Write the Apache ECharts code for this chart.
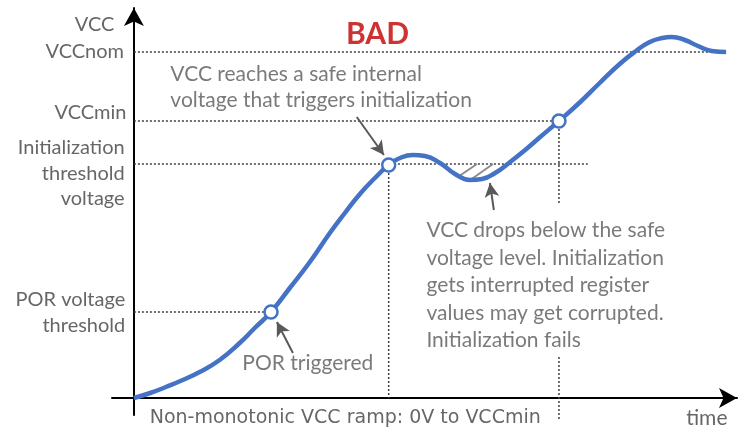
<!DOCTYPE html>
<html>
<head>
<meta charset="utf-8">
<script src="https://cdn.jsdelivr.net/npm/echarts@6/dist/echarts.min.js"></script>
<style>html,body{margin:0;padding:0;background:#fff}#c{width:738px;height:427px}</style>
</head>
<body>
<div id="c"></div>
<script>
// ---- data (time in arbitrary units, voltage in arbitrary units) ----
const curveTime = [0, 2.6, 5.1, 7.8, 10.5, 13.7, 16.9, 19.3, 21.9, 24.9, 28.1, 31.3, 33.7, 36.1, 38.5, 40.7, 42.5, 44.6, 46.5, 48.9, 51.3, 53.7, 55.6, 57.7, 60.1, 62.5, 64.9, 67.9, 71.3, 74.4, 77.6, 80.2, 82.4, 84.4, 85.9, 88.0, 90.1, 92.3, 94.6];
const curveVcc  = [0, 0.05, 0.11, 0.18, 0.26, 0.38, 0.55, 0.70, 0.86, 1.10, 1.36, 1.65, 1.85, 2.04, 2.20, 2.33, 2.40, 2.43, 2.42, 2.35, 2.24, 2.18, 2.19, 2.25, 2.36, 2.48, 2.61, 2.77, 2.96, 3.15, 3.34, 3.47, 3.56, 3.60, 3.61, 3.58, 3.52, 3.47, 3.46];

const levelNames  = ['VCCnom', 'VCCmin', 'Initialization threshold voltage', 'POR voltage threshold'];
const levelValues = [3.46, 2.77, 2.34, 0.86];
const levelEnds   = [92.0, 67.9, 72.5, 21.9];   // time where each dotted guide ends

const markTimes   = [21.9, 40.7, 67.9];          // POR trigger, init trigger, VCCmin reached
const markVcc     = [0.86, 2.33, 2.77];

const axisNames   = ['VCC', 'time'];
const titleText   = 'BAD';
const noteInit    = ['VCC reaches a safe internal', 'voltage that triggers initialization'];
const noteDrop    = ['VCC drops below the safe', 'voltage level. Initialization', 'gets interrupted register', 'values may get corrupted.', 'Initialization fails'];
const notePor     = 'POR triggered';
const noteRamp    = 'Non-monotonic VCC ramp: 0V to VCCmin';

// ---- chart ----
const chart = echarts.init(document.getElementById('c'));
const FONT = 'Lato';
const GUIDE = {color: '#404040', width: 1.5, type: [2, 2]};

function guide(points) {
  return {type: 'line', data: points, symbol: 'none', silent: true, lineStyle: GUIDE, z: 1, clip: false, animation: false};
}
const guideSeries = [];
levelValues.forEach((v, i) => guideSeries.push(guide([[0, v], [levelEnds[i], v]])));
guideSeries.push(guide([[markTimes[1], markVcc[1]], [markTimes[1], 0]]));
// vertical guide at VCCmin, interrupted where the note text sits
guideSeries.push(guide([[markTimes[2], markVcc[2]], [markTimes[2], 1.93]]));
guideSeries.push(guide([[markTimes[2], 0.41], [markTimes[2], -0.22]]));

function txt(t, v, text, align, opts) {
  return {
    value: [t, v],
    label: Object.assign({show: true, formatter: text, position: [0, 0], align: align, verticalAlign: 'middle',
      fontFamily: FONT, fontSize: 21, color: '#595959', lineHeight: 26}, opts || {})
  };
}

const LEFT = {color: '#404040', fontSize: 20};
const textData = [
  txt(-3.05, 3.73, axisNames[0], 'right', LEFT),
  txt(-1.5, levelValues[0], 'VCCnom', 'right', LEFT),
  txt(-1.1, 2.85, 'VCCmin', 'right', LEFT),
  txt(-1.4, 2.24, 'Initialization\nthreshold\nvoltage', 'right', Object.assign({}, LEFT, {lineHeight: 25.5})),
  txt(-1.3, 0.85, 'POR voltage\nthreshold', 'right', Object.assign({}, LEFT, {lineHeight: 26})),
  txt(38.98, 3.63, titleText, 'center', {color: '#C00000', fontWeight: 'bold', fontSize: 30}),
  txt(5.9, 3.10, noteInit.join('\n'), 'left'),
  txt(46.8, 1.12, noteDrop.join('\n'), 'left', {lineHeight: 27.5}),
  txt(17.4, 0.34, notePor, 'left'),
  txt(2.6, -0.21, noteRamp, 'left', {color: '#404040', fontSize: 19, fontFamily: 'DejaVu Sans'}),
  txt(88.3, -0.21, axisNames[1], 'left', {color: '#404040', fontSize: 21})
];

const ARROW = {color: '#595959', width: 2, type: 'solid'};
function arrow(t1, v1, t2, v2) {
  return [{coord: [t1, v1], lineStyle: ARROW}, {coord: [t2, v2]}];
}
const HATCH = {color: '#8c8c8c', width: 2, type: 'solid'};

chart.setOption({
  animation: false,
  grid: {left: 112, right: 1, top: 8, bottom: 12},
  xAxis: {
    type: 'value', min: -3.5, max: 96.34,
    axisLine: {show: true, onZero: true, symbol: ['none', 'arrow'], symbolSize: [15, 18], lineStyle: {color: '#000', width: 2}},
    axisTick: {show: false}, axisLabel: {show: false}, splitLine: {show: false}
  },
  yAxis: {
    type: 'value', min: -0.17, max: 3.90,
    axisLine: {show: true, onZero: true, symbol: ['none', 'arrow'], symbolSize: [15, 18], lineStyle: {color: '#000', width: 2}},
    axisTick: {show: false}, axisLabel: {show: false}, splitLine: {show: false}
  },
  series: guideSeries.concat([
    {
      type: 'line', name: 'VCC', data: curveTime.map((t, i) => [t, curveVcc[i]]),
      smooth: 0.5, symbol: 'none', lineStyle: {color: '#4472C4', width: 4.5}, z: 5, clip: false,
      markLine: {
        silent: true, symbol: ['none', 'none'], label: {show: false}, animation: false,
        lineStyle: HATCH,
        data: [
          [{coord: [51.76, 2.21]}, {coord: [54.79, 2.34]}],
          [{coord: [53.51, 2.17]}, {coord: [57.35, 2.34]}]
        ]
      }
    },
    {
      type: 'line', data: [], markLine: {
        silent: true, symbol: ['none', 'arrow'], symbolSize: [11, 14], label: {show: false}, animation: false,
        lineStyle: ARROW, itemStyle: {color: '#595959'},
        data: [
          arrow(35.6, 2.81, 39.94, 2.43),
          arrow(57.5, 1.88, 56.87, 2.15),
          arrow(25.4, 0.45, 22.84, 0.76)
        ]
      }, z: 6
    },
    {
      type: 'scatter', data: markTimes.map((t, i) => [t, markVcc[i]]),
      symbol: 'circle', symbolSize: 13, z: 7,
      itemStyle: {color: '#fff', borderColor: '#4472C4', borderWidth: 2.5, opacity: 1}
    },
    {
      type: 'scatter', data: textData, symbolSize: 1, z: 8, silent: true, clip: false,
      itemStyle: {color: 'transparent'}
    }
  ])
});
</script>
</body>
</html>
